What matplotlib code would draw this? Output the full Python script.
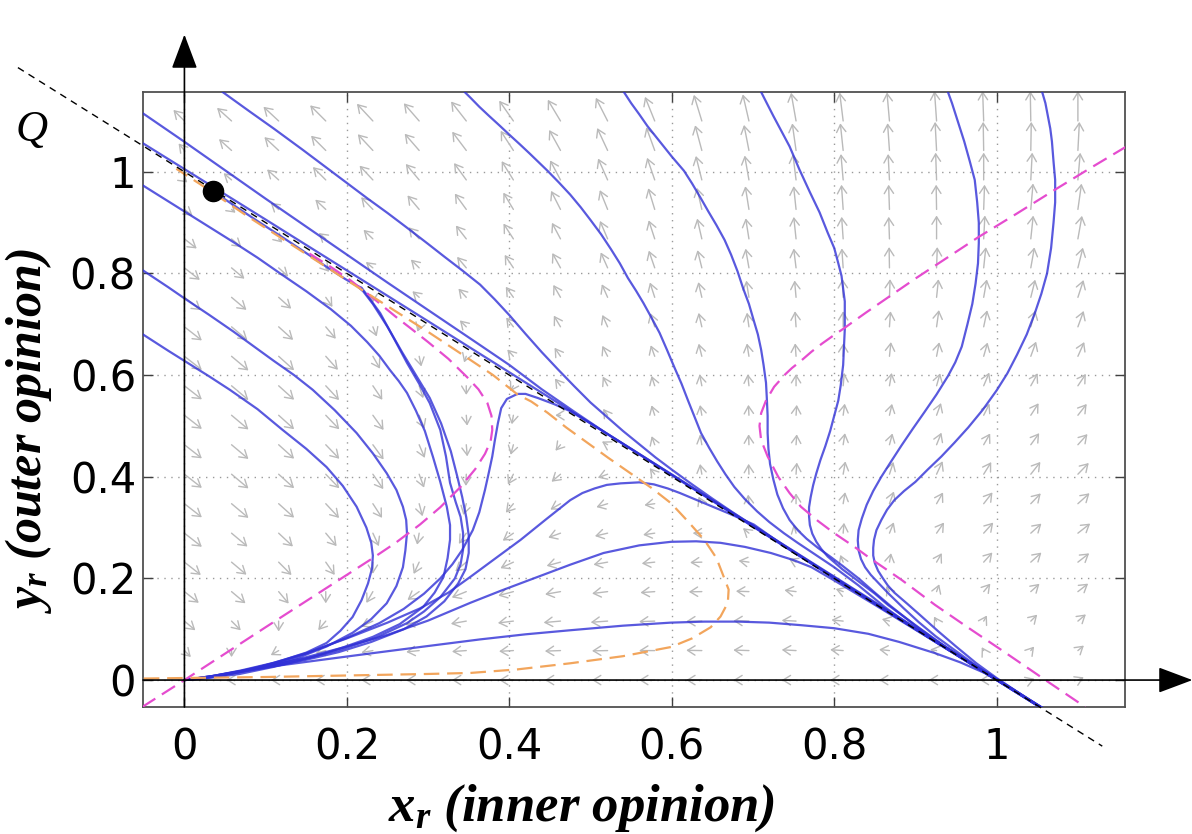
import numpy as np
import matplotlib
matplotlib.use('Agg')
import matplotlib.pyplot as plt

plt.rcParams['mathtext.fontset'] = 'custom'
plt.rcParams['mathtext.it'] = 'Liberation Serif:italic:bold'
plt.rcParams['mathtext.rm'] = 'Liberation Serif:bold'
plt.rcParams['mathtext.bf'] = 'Liberation Serif:bold'

# ---------------- data ----------------
x_ticks = [0, 0.2, 0.4, 0.6, 0.8, 1.0]
x_tick_labels = ['0', '0.2', '0.4', '0.6', '0.8', '1']
y_ticks = [0, 0.2, 0.4, 0.6, 0.8, 1.0]
y_tick_labels = ['0', '0.2', '0.4', '0.6', '0.8', '1']

# quiver grid (arrow tails)
grid_x = [0.0, 0.058, 0.116, 0.174, 0.232, 0.289, 0.347, 0.405, 0.463, 0.521,
          0.579, 0.637, 0.695, 0.753, 0.811, 0.868, 0.926, 0.984, 1.042, 1.1]
grid_y = [0.0, 0.058, 0.116, 0.174, 0.232, 0.289, 0.347, 0.405, 0.463, 0.521,
          0.579, 0.637, 0.695, 0.753, 0.811, 0.868, 0.926, 0.984, 1.042, 1.1]

# arrow screen angles (deg), rows from top (y=1.1) to bottom (y=0)
arrow_angle = [
    [135, 138, 137, 135, 133, 131, 128, 125, 121, 117, 112, 107, 103, 100, 97, 95, 94, 92, 91, 90],
    [130, 138, 137, 135, 133, 131, 127, 123, 119, 115, 110, 105, 101, 98, 96, 94, 93, 91, 89, 87],
    [-40, 140, 138, 135, 133, 130, 126, 122, 118, 114, 109, 104, 100, 97, 95, 93, 92, 90, 87, 85],
    [-38, -40, 140, 137, 134, 130, 126, 121, 117, 112, 107, 103, 99, 96, 94, 92, 91, 88, 85, 82],
    [-38, -40, -45, 140, 136, 132, 128, 123, 118, 113, 108, 103, 99, 96, 94, 92, 90, 87, 84, 80],
    [-38, -40, -42, -50, 140, 135, 130, 124, 119, 114, 109, 104, 100, 97, 94, 91, 88, 84, 80, 76],
    [-38, -40, -42, -55, -90, 138, 132, 126, 120, 114, 108, 103, 99, 95, 92, 88, 84, 80, 76, 72],
    [-38, -40, -42, -50, -68, -110, 135, 128, 121, 114, 108, 103, 98, 94, 90, 86, 82, 78, 74, 70],
    [-38, -40, -42, -48, -60, -78, -110, 132, 125, 117, 110, 104, 99, 94, 89, 84, 79, 74, 70, 66],
    [-38, -40, -42, -47, -56, -72, -90, -120, 128, 118, 108, 101, 96, 90, 85, 80, 74, 67, 61, 56],
    [-38, -40, -42, -46, -54, -68, -85, -100, 180, 125, 108, 100, 93, 86, 82, 77, 70, 63, 57, 52],
    [-38, -40, -42, -46, -54, -67, -85, -105, -130, 150, 110, 100, 92, 86, 81, 75, 68, 60, 54, 48],
    [-38, -40, -42, -46, -55, -70, -92, -118, -140, -160, 130, 100, 92, 86, 80, 72, 65, 58, 52, 46],
    [-38, -40, -42, -47, -57, -75, -105, -130, -150, -163, -172, 115, 95, 90, 80, 70, 60, 52, 46, 42],
    [-38, -40, -43, -50, -65, -100, -125, -145, -160, -167, -172, 180, 140, 105, 85, 68, 55, 48, 42, 38],
    [-38, -40, -45, -55, -90, -115, -140, -155, -165, -170, -174, -178, 172, 155, 112, 80, 60, 48, 42, 38],
    [-38, -40, -50, -90, -120, -145, -158, -165, -170, -173, -176, -179, 178, 173, 160, 120, 70, 50, 42, 38],
    [-40, -45, -90, -130, -155, -165, -170, -173, -175, -176, -178, -179, 179, 177, 174, 165, 120, 60, 45, 40],
    [-45, -90, -150, -165, -170, -174, -176, -177, -178, -179, 180, 179, 178, 177, 176, 174, 170, 120, 50, 40],
    [180, 180, 180, 180, 180, 180, 180, 180, 180, 180, 180, 180, 180, 180, 180, 180, 180, 180, 20, 25],
]
# arrow lengths (relative pixels), same layout
arrow_len = [
    [12, 15, 16, 17, 18, 18, 19, 19, 19, 20, 20, 21, 21, 22, 22, 22, 23, 23, 23, 23],
    [7, 13, 15, 16, 17, 17, 18, 18, 18, 19, 19, 20, 20, 21, 21, 21, 22, 22, 22, 22],
    [3, 8, 12, 14, 15, 16, 16, 17, 17, 18, 18, 19, 19, 20, 20, 20, 21, 21, 21, 21],
    [8, 4, 8, 11, 13, 14, 15, 15, 16, 16, 17, 17, 18, 18, 19, 19, 19, 19, 20, 20],
    [12, 10, 4, 7, 10, 12, 13, 14, 14, 15, 15, 16, 16, 17, 17, 17, 18, 18, 18, 18],
    [15, 13, 10, 4, 7, 9, 11, 12, 13, 13, 14, 14, 15, 15, 15, 16, 16, 16, 16, 16],
    [16, 15, 13, 9, 4, 7, 9, 10, 11, 11, 12, 12, 13, 13, 14, 14, 14, 14, 14, 14],
    [17, 16, 15, 12, 8, 4, 7, 9, 10, 10, 11, 11, 11, 12, 12, 12, 13, 13, 13, 13],
    [17, 17, 16, 14, 11, 8, 5, 7, 8, 9, 9, 10, 10, 10, 10, 11, 11, 11, 12, 12],
    [17, 17, 16, 15, 13, 10, 7, 5, 7, 8, 8, 9, 9, 9, 10, 10, 10, 11, 11, 11],
    [17, 17, 16, 15, 14, 11, 8, 7, 4, 6, 8, 8, 8, 8, 9, 9, 10, 10, 11, 11],
    [17, 17, 16, 15, 14, 11, 9, 8, 6, 5, 7, 8, 8, 8, 9, 9, 10, 10, 11, 11],
    [17, 17, 16, 15, 14, 11, 9, 9, 9, 8, 6, 8, 8, 9, 10, 10, 11, 11, 12, 12],
    [17, 17, 16, 15, 13, 10, 9, 9, 9, 9, 8, 6, 7, 8, 9, 10, 10, 11, 11, 12],
    [17, 16, 15, 13, 11, 9, 10, 10, 10, 10, 9, 7, 6, 7, 8, 9, 10, 11, 11, 12],
    [16, 15, 14, 12, 9, 10, 11, 11, 11, 11, 10, 9, 8, 6, 6, 7, 8, 10, 11, 11],
    [14, 14, 12, 9, 10, 11, 12, 12, 12, 12, 11, 10, 10, 9, 6, 5, 6, 8, 9, 10],
    [11, 10, 8, 9, 10, 11, 12, 12, 13, 13, 12, 12, 12, 11, 9, 6, 4, 5, 7, 8],
    [7, 5, 7, 8, 9, 10, 11, 11, 12, 12, 12, 12, 12, 11, 10, 8, 5, 3, 4, 6],
    [0, 4, 6, 8, 9, 10, 11, 11, 12, 12, 12, 12, 12, 11, 10, 8, 6, 3, 3, 5],
]

# blue trajectories
c1_x = [-0.052, -0.02, 0.0, 0.03, 0.056, 0.09, 0.121, 0.15, 0.175, 0.195, 0.212, 0.224, 0.23, 0.232,
        0.231, 0.226, 0.218, 0.207, 0.192, 0.175, 0.15, 0.121, 0.095, 0.068, 0.045, 0.025, 0.01, 0.0]
c1_y = [0.681, 0.648, 0.628, 0.598, 0.571, 0.533, 0.492, 0.455, 0.419, 0.382, 0.341, 0.30, 0.27, 0.245,
        0.22, 0.19, 0.157, 0.124, 0.097, 0.073, 0.054, 0.039, 0.027, 0.016, 0.009, 0.004, 0.001, 0.0]
c2_x = [-0.052, -0.02, 0.0, 0.03, 0.06, 0.085, 0.11, 0.135, 0.158, 0.185, 0.212, 0.232, 0.249, 0.261,
        0.269, 0.273, 0.274, 0.272, 0.269, 0.261, 0.249, 0.23, 0.207, 0.175, 0.142, 0.105, 0.068, 0.04,
        0.018, 0.0]
c2_y = [0.807, 0.773, 0.751, 0.719, 0.686, 0.657, 0.628, 0.60, 0.571, 0.531, 0.486, 0.446, 0.407, 0.374,
        0.341, 0.315, 0.289, 0.255, 0.222, 0.185, 0.151, 0.12, 0.093, 0.066, 0.045, 0.028, 0.016, 0.008,
        0.003, 0.0]
c3_x = [-0.052, -0.02, 0.0, 0.03, 0.06, 0.09, 0.117, 0.15, 0.18, 0.205, 0.225, 0.24, 0.253, 0.264, 0.274,
        0.285, 0.296, 0.306, 0.315, 0.323, 0.327, 0.327, 0.324, 0.319, 0.308, 0.294, 0.265, 0.232, 0.195,
        0.158, 0.11, 0.068, 0.03, 0.0]
c3_y = [0.974, 0.942, 0.922, 0.892, 0.862, 0.831, 0.801, 0.765, 0.73, 0.697, 0.665, 0.638, 0.61, 0.588,
        0.565, 0.53, 0.49, 0.439, 0.39, 0.341, 0.305, 0.276, 0.24, 0.203, 0.172, 0.144, 0.11, 0.085, 0.064,
        0.045, 0.026, 0.012, 0.004, 0.0]
h1_x = [0.035, 0.06, 0.09, 0.12, 0.15, 0.175, 0.198, 0.212, 0.218, 0.226, 0.241, 0.258, 0.274, 0.289,
        0.302, 0.315, 0.322, 0.327, 0.334, 0.34, 0.343, 0.343, 0.34, 0.333, 0.315, 0.295, 0.274, 0.235,
        0.191, 0.15, 0.109, 0.07, 0.035, 0.0]
h1_y = [0.962, 0.935, 0.903, 0.872, 0.84, 0.813, 0.789, 0.776, 0.772, 0.755, 0.722, 0.672, 0.624, 0.583,
        0.545, 0.492, 0.44, 0.388, 0.35, 0.321, 0.29, 0.256, 0.228, 0.2, 0.163, 0.135, 0.112, 0.083, 0.059,
        0.043, 0.03, 0.018, 0.008, 0.0]
h2_x = [0.212, 0.22, 0.232, 0.25, 0.268, 0.285, 0.302, 0.316, 0.328, 0.336, 0.342, 0.347, 0.35, 0.35,
        0.346, 0.337, 0.32, 0.298, 0.27, 0.23, 0.19, 0.15, 0.11, 0.07, 0.035, 0.0]
h2_y = [0.776, 0.765, 0.74, 0.695, 0.645, 0.6, 0.555, 0.505, 0.45, 0.4, 0.36, 0.32, 0.285, 0.25, 0.218,
        0.19, 0.155, 0.125, 0.1, 0.075, 0.055, 0.04, 0.027, 0.016, 0.007, 0.0]
b4_x = [0.0, 0.035, 0.07, 0.11, 0.15, 0.2, 0.24, 0.27, 0.295, 0.315, 0.33, 0.342, 0.355, 0.363, 0.37,
        0.375, 0.379, 0.382, 0.386, 0.39, 0.397, 0.41, 0.42, 0.435, 0.455, 0.475, 0.5, 0.55, 0.6, 0.7, 0.8,
        0.9, 1.0, 1.056]
b4_y = [0.0, 0.008, 0.018, 0.033, 0.052, 0.083, 0.112, 0.14, 0.17, 0.2, 0.228, 0.256, 0.295, 0.33, 0.374,
        0.41, 0.44, 0.47, 0.506, 0.535, 0.553, 0.563, 0.563, 0.555, 0.543, 0.529, 0.505, 0.455, 0.404,
        0.302, 0.201, 0.1, 0.0, -0.056]
b3_x = [0.0, 0.035, 0.07, 0.11, 0.15, 0.2, 0.25, 0.29, 0.325, 0.352, 0.38, 0.414, 0.445, 0.475, 0.49,
        0.505, 0.52, 0.537, 0.56, 0.578, 0.595, 0.61, 0.64, 0.67, 0.701, 0.74, 0.8, 0.9, 1.0, 1.056]
b3_y = [0.0, 0.008, 0.019, 0.034, 0.053, 0.082, 0.113, 0.141, 0.172, 0.203, 0.236, 0.276, 0.316, 0.354,
        0.368, 0.377, 0.384, 0.387, 0.389, 0.385, 0.377, 0.368, 0.348, 0.328, 0.306, 0.262, 0.2, 0.1, 0.0,
        -0.056]
b2_x = [0.0, 0.035, 0.07, 0.11, 0.15, 0.2, 0.25, 0.3, 0.352, 0.39, 0.435, 0.475, 0.516, 0.56, 0.599, 0.63,
        0.66, 0.69, 0.722, 0.75, 0.772, 0.8, 0.85, 0.9, 0.95, 1.0, 1.056]
b2_y = [0.0, 0.007, 0.017, 0.03, 0.045, 0.066, 0.089, 0.117, 0.152, 0.176, 0.203, 0.227, 0.25, 0.265,
        0.272, 0.273, 0.27, 0.262, 0.25, 0.236, 0.222, 0.196, 0.148, 0.099, 0.05, 0.0, -0.056]
b1_x = [0.0, 0.035, 0.07, 0.109, 0.17, 0.232, 0.3, 0.364, 0.42, 0.475, 0.54, 0.599, 0.64, 0.681, 0.72,
        0.759, 0.8, 0.842, 0.88, 0.924, 0.955, 0.985, 1.02, 1.056]
b1_y = [0.0, 0.008, 0.017, 0.027, 0.04, 0.053, 0.067, 0.08, 0.09, 0.098, 0.107, 0.113, 0.115, 0.115,
        0.113, 0.108, 0.102, 0.091, 0.075, 0.053, 0.035, 0.014, -0.018, -0.056]
lc_x = [-0.052, 0.1, 0.3, 0.5, 0.7, 0.9, 1.0, 1.056]
lc_y = [1.057, 0.906, 0.706, 0.505, 0.304, 0.103, 0.002, -0.054]
u1_x = [-0.052, 0.0, 0.05, 0.1, 0.15, 0.2, 0.25, 0.3, 0.364, 0.4, 0.44, 0.48, 0.52, 0.6, 0.7, 0.8, 0.9,
        1.0, 1.056]
u1_y = [1.116, 1.059, 1.003, 0.947, 0.892, 0.837, 0.782, 0.728, 0.659, 0.62, 0.572, 0.528, 0.485, 0.403,
        0.302, 0.202, 0.101, 0.001, -0.055]
u2_x = [0.047, 0.08, 0.11, 0.145, 0.175, 0.2, 0.225, 0.25, 0.274, 0.3, 0.32, 0.342, 0.364, 0.382, 0.40,
        0.42, 0.44, 0.46, 0.48, 0.5, 0.52, 0.54, 0.56, 0.58, 0.6, 0.625, 0.65, 0.675, 0.7, 0.75, 0.8, 0.9,
        1.0, 1.056]
u2_y = [1.157, 1.119, 1.085, 1.044, 1.008, 0.978, 0.948, 0.919, 0.89, 0.858, 0.833, 0.806, 0.778, 0.749,
        0.718, 0.681, 0.645, 0.611, 0.578, 0.546, 0.518, 0.49, 0.464, 0.438, 0.414, 0.385, 0.357, 0.33,
        0.304, 0.253, 0.202, 0.101, 0.001, -0.055]
ta_x = [0.345, 0.352, 0.363, 0.375, 0.388, 0.40, 0.413, 0.425, 0.436, 0.447, 0.461, 0.475, 0.488, 0.5,
        0.513, 0.525, 0.536, 0.546, 0.556, 0.565, 0.575, 0.585, 0.594, 0.603, 0.612, 0.62, 0.628, 0.636,
        0.646, 0.656, 0.666, 0.677, 0.69, 0.705, 0.72, 0.738, 0.755, 0.77, 0.785, 0.80, 0.815, 0.83, 0.846,
        0.862, 0.88, 0.9, 0.925, 0.95, 0.975, 1.0, 1.028, 1.056]
ta_y = [1.157, 1.146, 1.128, 1.11, 1.091, 1.073, 1.054, 1.036, 1.019, 1.002, 0.979, 0.955, 0.93, 0.905,
        0.877, 0.848, 0.82, 0.791, 0.766, 0.742, 0.713, 0.683, 0.65, 0.616, 0.583, 0.55, 0.518, 0.486,
        0.457, 0.43, 0.405, 0.38, 0.356, 0.332, 0.311, 0.289, 0.27, 0.254, 0.238, 0.222, 0.204, 0.186,
        0.165, 0.144, 0.123, 0.101, 0.075, 0.05, 0.025, 0.001, -0.027, -0.055]
tb_x = [0.541, 0.55, 0.56, 0.57, 0.58, 0.59, 0.6, 0.615, 0.625, 0.635, 0.645, 0.655, 0.665, 0.673, 0.681,
        0.688, 0.695, 0.701, 0.706, 0.71, 0.713, 0.716, 0.717, 0.718, 0.718, 0.719, 0.721, 0.725, 0.73,
        0.737, 0.745, 0.755, 0.766, 0.78, 0.795, 0.81, 0.83, 0.85, 0.87, 0.9, 0.925, 0.95, 0.975, 1.0,
        1.028, 1.056]
tb_y = [1.157, 1.135, 1.113, 1.09, 1.07, 1.05, 1.03, 1.002, 0.977, 0.95, 0.922, 0.895, 0.866, 0.837,
        0.804, 0.77, 0.74, 0.707, 0.68, 0.65, 0.62, 0.585, 0.555, 0.52, 0.486, 0.455, 0.425, 0.395, 0.365,
        0.338, 0.315, 0.295, 0.278, 0.26, 0.243, 0.225, 0.2, 0.172, 0.145, 0.107, 0.078, 0.051, 0.026,
        0.001, -0.027, -0.055]
r1_x = [0.71, 0.717, 0.725, 0.735, 0.745, 0.757, 0.77, 0.782, 0.792, 0.8, 0.805, 0.809, 0.811, 0.813,
        0.813, 0.813, 0.812, 0.811, 0.808, 0.805, 0.8, 0.795, 0.789, 0.783, 0.778, 0.774, 0.771, 0.769,
        0.769, 0.77, 0.773, 0.778, 0.784, 0.792, 0.80, 0.81, 0.821, 0.835, 0.85, 0.866, 0.883, 0.9, 0.92,
        0.94, 0.96, 0.98, 1.0, 1.028, 1.056]
r1_y = [1.157, 1.135, 1.11, 1.08, 1.05, 1.005, 0.96, 0.92, 0.88, 0.85, 0.82, 0.795, 0.77, 0.745, 0.72,
        0.69, 0.656, 0.62, 0.58, 0.55, 0.52, 0.49, 0.46, 0.433, 0.407, 0.383, 0.36, 0.34, 0.322, 0.305,
        0.288, 0.272, 0.258, 0.243, 0.232, 0.218, 0.205, 0.188, 0.17, 0.148, 0.128, 0.108, 0.085, 0.062,
        0.041, 0.02, 0.0, -0.028, -0.055]
r2_x = [0.94, 0.945, 0.95, 0.955, 0.96, 0.967, 0.973, 0.976, 0.978, 0.978, 0.977, 0.974, 0.97, 0.964,
        0.957, 0.949, 0.94, 0.926, 0.911, 0.897, 0.883, 0.87, 0.858, 0.848, 0.84, 0.834, 0.83, 0.829, 0.83,
        0.833, 0.838, 0.845, 0.855, 0.867, 0.885, 0.904, 0.925, 0.95, 0.975, 1.0, 1.028, 1.056]
r2_y = [1.157, 1.135, 1.11, 1.085, 1.06, 1.02, 0.984, 0.94, 0.9, 0.86, 0.82, 0.78, 0.74, 0.7, 0.656,
        0.625, 0.598, 0.562, 0.527, 0.495, 0.462, 0.43, 0.4, 0.372, 0.345, 0.318, 0.295, 0.275, 0.255,
        0.238, 0.222, 0.207, 0.19, 0.17, 0.142, 0.114, 0.086, 0.057, 0.028, 0.002, -0.027, -0.055]
r3_x = [1.056, 1.06, 1.063, 1.066, 1.068, 1.07, 1.072, 1.072, 1.07, 1.067, 1.062, 1.055, 1.047, 1.037,
        1.025, 1.013, 1.0, 0.983, 0.965, 0.948, 0.932, 0.915, 0.9, 0.886, 0.874, 0.865, 0.858, 0.852, 0.849,
        0.848, 0.848, 0.85, 0.854, 0.86, 0.866, 0.874, 0.89, 0.907, 0.928, 0.95, 0.975, 1.0, 1.028, 1.056]
r3_y = [1.157, 1.135, 1.11, 1.085, 1.06, 1.02, 0.984, 0.94, 0.9, 0.85, 0.8, 0.76, 0.722, 0.68, 0.64,
        0.603, 0.57, 0.532, 0.497, 0.467, 0.44, 0.414, 0.39, 0.372, 0.354, 0.335, 0.315, 0.295, 0.276,
        0.26, 0.245, 0.23, 0.215, 0.2, 0.186, 0.172, 0.15, 0.126, 0.096, 0.066, 0.033, 0.004, -0.026,
        -0.055]

# nullclines
m1_x = [-0.052, 0.0, 0.1, 0.2, 0.232, 0.26, 0.29, 0.315, 0.34, 0.358, 0.37, 0.377, 0.379, 0.378, 0.373,
        0.362, 0.348, 0.325, 0.3, 0.281, 0.26, 0.232, 0.204, 0.18, 0.15]
m1_y = [-0.053, 0.0, 0.104, 0.207, 0.24, 0.27, 0.306, 0.34, 0.38, 0.415, 0.445, 0.47, 0.492, 0.52, 0.545,
        0.572, 0.596, 0.632, 0.665, 0.689, 0.715, 0.752, 0.787, 0.813, 0.843]
m2_x = [1.16, 1.115, 1.072, 1.025, 0.978, 0.94, 0.9, 0.87, 0.84, 0.825, 0.812, 0.8, 0.785, 0.772, 0.759,
        0.748, 0.74, 0.726, 0.716, 0.71, 0.708, 0.71, 0.718, 0.731, 0.745, 0.759, 0.78, 0.80, 0.825, 0.842,
        0.883, 0.924, 0.965, 1.006, 1.06, 1.109]
m2_y = [1.05, 1.007, 0.965, 0.918, 0.872, 0.832, 0.79, 0.757, 0.724, 0.707, 0.692, 0.679, 0.662, 0.646,
        0.628, 0.614, 0.602, 0.577, 0.55, 0.525, 0.5, 0.472, 0.44, 0.40, 0.368, 0.341, 0.313, 0.289, 0.262,
        0.242, 0.197, 0.148, 0.103, 0.059, 0.0, -0.053]
o_x = [-0.05, 0.0, 0.1, 0.2, 0.3, 0.352, 0.41, 0.475, 0.54, 0.599, 0.625, 0.648, 0.66, 0.669, 0.67, 0.664,
       0.655, 0.64, 0.62, 0.599, 0.575, 0.549, 0.522, 0.496, 0.47, 0.447, 0.427, 0.41, 0.38, 0.35, 0.3,
       0.232, 0.15, 0.08, 0.02, -0.01]
o_y = [0.003, 0.004, 0.006, 0.009, 0.012, 0.014, 0.021, 0.033, 0.047, 0.065, 0.082, 0.104, 0.125, 0.152,
       0.178, 0.203, 0.24, 0.276, 0.312, 0.348, 0.378, 0.407, 0.437, 0.467, 0.497, 0.526, 0.548, 0.562,
       0.6, 0.632, 0.685, 0.754, 0.838, 0.91, 0.975, 1.006]

# invariant line x + y = 1 (dashed black) and the point Q
line_x = [-0.205, 1.13]
line_y = [1.205, -0.13]
q_x = [0.035]
q_y = [0.962]

# ---------------- drawing ----------------
fig = plt.figure(figsize=(11.92, 8.34), dpi=100)
ax = fig.add_axes([0.11997, 0.15228, 0.82383, 0.73741])
ax.set_xlim(-0.051, 1.158)
ax.set_ylim(-0.053, 1.157)

ax.set_xticks(x_ticks)
ax.set_xticklabels(x_tick_labels)
ax.set_yticks(y_ticks)
ax.set_yticklabels(y_tick_labels)
for lab in ax.get_xticklabels() + ax.get_yticklabels():
    lab.set_fontfamily('DejaVu Sans')
ax.tick_params(direction='in', length=7, width=1.0, top=True, right=True,
               colors='#404040', labelcolor='black', labelsize=30)
ax.tick_params(axis='x', pad=14)
ax.tick_params(axis='y', pad=5)
for s in ax.spines.values():
    s.set_color('#505050')
    s.set_linewidth(1.3)
ax.grid(True, linestyle=(0, (1, 4)), color='#9a9a9a', linewidth=1.0, zorder=0)
ax.set_axisbelow(True)

# vector field: open-headed arrows, tail at the grid point, offset in pixels
ARROW_SCALE = 1.3
for r, row in enumerate(arrow_angle):
    yv = grid_y[len(grid_y) - 1 - r]
    for c, ang in enumerate(row):
        ln = arrow_len[r][c] * ARROW_SCALE
        if ln <= 0:
            continue
        a = np.radians(ang)
        ax.annotate('', xy=(grid_x[c], yv),
                    xytext=(ln * np.cos(a), ln * np.sin(a)), textcoords='offset pixels',
                    arrowprops=dict(arrowstyle='<-,head_length=0.45,head_width=0.28',
                                    color='#bababa', lw=1.0, shrinkA=0, shrinkB=0,
                                    mutation_scale=12),
                    zorder=1)

# trajectories
trajectories = [(c1_x, c1_y), (c2_x, c2_y), (c3_x, c3_y), (h1_x, h1_y), (h2_x, h2_y),
                (b4_x, b4_y), (b3_x, b3_y), (b2_x, b2_y), (b1_x, b1_y), (lc_x, lc_y),
                (u1_x, u1_y), (u2_x, u2_y), (ta_x, ta_y), (tb_x, tb_y), (r1_x, r1_y),
                (r2_x, r2_y), (r3_x, r3_y)]
for tx, ty in trajectories:
    ax.plot(tx, ty, color='#3030d6', lw=1.6, alpha=0.8, zorder=3,
            solid_capstyle='round', solid_joinstyle='round')

# nullclines
ax.plot(m1_x, m1_y, color='#e54ccf', lw=1.6, dashes=(7, 3.5), zorder=4)
ax.plot(m2_x, m2_y, color='#e54ccf', lw=1.6, dashes=(7, 3.5), zorder=4)
ax.plot(o_x, o_y, color='#f2a55c', lw=1.6, dashes=(7, 3.5), zorder=4)

# dashed line and point Q
ax.plot(line_x, line_y, color='black', lw=1.0, dashes=(5, 4), zorder=5, clip_on=False)
ax.plot(q_x, q_y, 'o', color='black', ms=14.5, zorder=6)

# coordinate axes with arrows
ax.annotate('', xy=(0, 1.27), xytext=(0, -0.053),
            arrowprops=dict(arrowstyle='-|>,head_length=0.8,head_width=0.3', color='black',
                            lw=1.2, mutation_scale=27, shrinkA=0, shrinkB=0),
            annotation_clip=False, zorder=7)
ax.annotate('', xy=(1.241, 0), xytext=(-0.051, 0),
            arrowprops=dict(arrowstyle='-|>,head_length=0.8,head_width=0.3', color='black',
                            lw=1.2, mutation_scale=27, shrinkA=0, shrinkB=0),
            annotation_clip=False, zorder=7)

# texts
ax.text(-0.188, 1.083, 'Q', fontsize=32, family='Liberation Serif', style='italic',
        ha='center', va='center', clip_on=False)
ax.text(0.447, -0.165, r'$x_r$ (inner opinion)', transform=ax.transAxes, ha='center', va='center',
        fontsize=38, family='Liberation Serif', style='italic', weight='bold')
ax.text(-0.117, 0.449, r'$y_r$ (outer opinion)', transform=ax.transAxes, ha='center', va='center',
        rotation=90, fontsize=36, family='Liberation Serif', style='italic', weight='bold')

fig.savefig('out.png', dpi=100)
